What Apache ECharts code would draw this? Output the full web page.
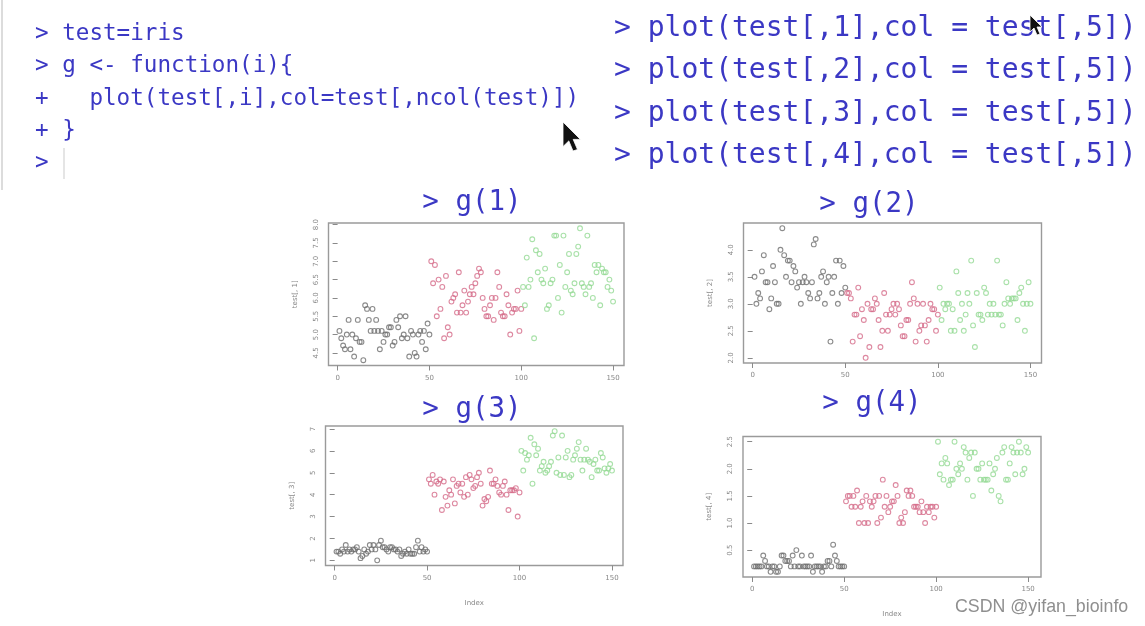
<!DOCTYPE html>
<html>
<head>
<meta charset="utf-8">
<script src="https://cdn.jsdelivr.net/npm/echarts@6/dist/echarts.min.js"></script>
<style>
html,body{margin:0;padding:0;background:#fff;}
#chart{width:1145px;height:626px;}
</style>
</head>
<body>
<div id="chart"></div>
<script>
// ---- data: iris (test = iris) ----
const sepalLength = [5.1,4.9,4.7,4.6,5.0,5.4,4.6,5.0,4.4,4.9,5.4,4.8,4.8,4.3,5.8,5.7,5.4,5.1,5.7,5.1,5.4,5.1,4.6,5.1,4.8,5.0,5.0,5.2,5.2,4.7,4.8,5.4,5.2,5.5,4.9,5.0,5.5,4.9,4.4,5.1,5.0,4.5,4.4,5.0,5.1,4.8,5.1,4.6,5.3,5.0,
7.0,6.4,6.9,5.5,6.5,5.7,6.3,4.9,6.6,5.2,5.0,5.9,6.0,6.1,5.6,6.7,5.6,5.8,6.2,5.6,5.9,6.1,6.3,6.1,6.4,6.6,6.8,6.7,6.0,5.7,5.5,5.5,5.8,6.0,5.4,6.0,6.7,6.3,5.6,5.5,5.5,6.1,5.8,5.0,5.6,5.7,5.7,6.2,5.1,5.7,
6.3,5.8,7.1,6.3,6.5,7.6,4.9,7.3,6.7,7.2,6.5,6.4,6.8,5.7,5.8,6.4,6.5,7.7,7.7,6.0,6.9,5.6,7.7,6.3,6.7,7.2,6.2,6.1,6.4,7.2,7.4,7.9,6.4,6.3,6.1,7.7,6.3,6.4,6.0,6.9,6.7,6.9,5.8,6.8,6.7,6.7,6.3,6.5,6.2,5.9];
const sepalWidth = [3.5,3.0,3.2,3.1,3.6,3.9,3.4,3.4,2.9,3.1,3.7,3.4,3.0,3.0,4.0,4.4,3.9,3.5,3.8,3.8,3.4,3.7,3.6,3.3,3.4,3.0,3.4,3.5,3.4,3.2,3.1,3.4,4.1,4.2,3.1,3.2,3.5,3.6,3.0,3.4,3.5,2.3,3.2,3.5,3.8,3.0,3.8,3.2,3.7,3.3,
3.2,3.2,3.1,2.3,2.8,2.8,3.3,2.4,2.9,2.7,2.0,3.0,2.2,2.9,2.9,3.1,3.0,2.7,2.2,2.5,3.2,2.8,2.5,2.8,2.9,3.0,2.8,3.0,2.9,2.6,2.4,2.4,2.7,2.7,3.0,3.4,3.1,2.3,3.0,2.5,2.6,3.0,2.6,2.3,2.7,3.0,2.9,2.9,2.5,2.8,
3.3,2.7,3.0,2.9,3.0,3.0,2.5,2.9,2.5,3.6,3.2,2.7,3.0,2.5,2.8,3.2,3.0,3.8,2.6,2.2,3.2,2.8,2.8,2.7,3.3,3.2,2.8,3.0,2.8,3.0,2.8,3.8,2.8,2.8,2.6,3.0,3.4,3.1,3.0,3.1,3.1,3.1,2.7,3.2,3.3,3.0,2.5,3.0,3.4,3.0];
const petalLength = [1.4,1.4,1.3,1.5,1.4,1.7,1.4,1.5,1.4,1.5,1.5,1.6,1.4,1.1,1.2,1.5,1.3,1.4,1.7,1.5,1.7,1.5,1.0,1.7,1.9,1.6,1.6,1.5,1.4,1.6,1.6,1.5,1.5,1.4,1.5,1.2,1.3,1.4,1.3,1.5,1.3,1.3,1.3,1.6,1.9,1.4,1.6,1.4,1.5,1.4,
4.7,4.5,4.9,4.0,4.6,4.5,4.7,3.3,4.6,3.9,3.5,4.2,4.0,4.7,3.6,4.4,4.5,4.1,4.5,3.9,4.8,4.0,4.9,4.7,4.3,4.4,4.8,5.0,4.5,3.5,3.8,3.7,3.9,5.1,4.5,4.5,4.7,4.4,4.1,4.0,4.4,4.6,4.0,3.3,4.2,4.2,4.2,4.3,3.0,4.1,
6.0,5.1,5.9,5.6,5.8,6.6,4.5,6.3,5.8,6.1,5.1,5.3,5.5,5.0,5.1,5.3,5.5,6.7,6.9,5.0,5.7,4.9,6.7,4.9,5.7,6.0,4.8,4.9,5.6,5.8,6.1,6.4,5.6,5.1,5.6,6.1,5.6,5.5,4.8,5.4,5.6,5.1,5.1,5.9,5.7,5.2,5.0,5.2,5.4,5.1];
const petalWidth = [0.2,0.2,0.2,0.2,0.2,0.4,0.3,0.2,0.2,0.1,0.2,0.2,0.1,0.1,0.2,0.4,0.4,0.3,0.3,0.3,0.2,0.4,0.2,0.5,0.2,0.2,0.4,0.2,0.2,0.2,0.2,0.4,0.1,0.2,0.2,0.2,0.2,0.1,0.2,0.2,0.3,0.3,0.2,0.6,0.4,0.3,0.2,0.2,0.2,0.2,
1.4,1.5,1.5,1.3,1.5,1.3,1.6,1.0,1.3,1.4,1.0,1.5,1.0,1.4,1.3,1.4,1.5,1.0,1.5,1.1,1.8,1.3,1.5,1.2,1.3,1.4,1.4,1.7,1.5,1.0,1.1,1.0,1.2,1.6,1.5,1.6,1.5,1.3,1.3,1.3,1.2,1.4,1.2,1.0,1.3,1.2,1.3,1.3,1.1,1.3,
2.5,1.9,2.1,1.8,2.2,2.1,1.7,1.8,1.8,2.5,2.0,1.9,2.1,2.0,2.4,2.3,1.8,2.2,2.3,1.5,2.3,2.0,2.0,1.8,2.1,1.8,1.8,1.8,2.1,1.6,1.9,2.0,2.2,1.5,1.4,2.3,2.4,1.8,1.8,2.1,2.4,2.3,1.9,2.3,2.5,2.3,1.9,2.0,2.4,2.3,1.8];
// Species column (test[,5]): 0 = setosa, 1 = versicolor, 2 = virginica
const speciesNames = ['setosa','versicolor','virginica'];
const speciesCode = ('00000000000000000000000000000000000000000000000000' +
                     '11111111111111111111111111111111111111111111111111' +
                     '22222222222222222222222222222222222222222222222222').split('').map(Number);
// y tick labels per panel
const yTicks1 = [4.5,5.0,5.5,6.0,6.5,7.0,7.5,8.0];
const yTicks2 = [2.0,2.5,3.0,3.5,4.0];
const yTicks3 = [1,2,3,4,5,6,7];
const yTicks4 = [0.5,1.0,1.5,2.0,2.5];
const xTicks = [0,50,100,150];
const yTitles = ['test[, 1]','test[, 2]','test[, 3]','test[, 4]'];
const panelTitles = ['> g(1)','> g(2)','> g(3)','> g(4)'];
const codeLeft = ['> test=iris','> g <- function(i){','+   plot(test[,i],col=test[,ncol(test)])','+ }','>'];
const codeRight = ['> plot(test[,1],col = test[,5])','> plot(test[,2],col = test[,5])','> plot(test[,3],col = test[,5])','> plot(test[,4],col = test[,5])'];
const watermark = 'CSDN @yifan_bioinfo';

// ---- layout / style ----
const palette = ['#6e6e6e','#d46a88','#93da93'];
const BLUE = '#3b38c4';
const panels = [
  {vals: sepalLength, ticks: yTicks1, dec: 1, box: {l: 328.5, r: 624, t: 223, b: 365.5}, xname: ''},
  {vals: sepalWidth,  ticks: yTicks2, dec: 1, box: {l: 743.5, r: 1041.5, t: 223, b: 363}, xname: ''},
  {vals: petalLength, ticks: yTicks3, dec: 0, box: {l: 325.5, r: 623, t: 426, b: 565.5}, xname: 'Index'},
  {vals: petalWidth,  ticks: yTicks4, dec: 1, box: {l: 743, r: 1041, t: 436.5, b: 577}, xname: 'Index'}
];
const W = 1145, H = 626;

function rRange(lo, hi) { const d = (hi - lo) * 0.04; return [lo - d, hi + d]; }

const grids = [], xAxes = [], yAxes = [], series = [];
const axisGray = '#8a8a8a';
panels.forEach((p, k) => {
  const b = p.box;
  grids.push({left: b.l, top: b.t, width: b.r - b.l, height: b.b - b.t, show: true,
              borderColor: '#9a9a9a', borderWidth: 1.4, backgroundColor: 'transparent', containLabel: false});
  const xr = rRange(1, p.vals.length);
  const yr = rRange(Math.min(...p.vals), Math.max(...p.vals));
  xAxes.push({gridIndex: k, type: 'value', min: xr[0], max: xr[1],
    axisLine: {show: false}, splitLine: {show: false},
    axisTick: {show: true, length: 5, lineStyle: {color: axisGray, width: 1}, customValues: xTicks},
    axisLabel: {show: true, margin: 9, fontSize: 7, color: '#888', fontFamily: 'DejaVu Sans', customValues: xTicks},
    name: p.xname, nameLocation: 'middle', nameGap: 34,
    nameTextStyle: {fontSize: 7, color: '#888', fontFamily: 'DejaVu Sans'}});
  yAxes.push({gridIndex: k, type: 'value', min: yr[0], max: yr[1],
    axisLine: {show: false}, splitLine: {show: false},
    axisTick: {show: true, length: 5, lineStyle: {color: axisGray, width: 1}, customValues: p.ticks},
    axisLabel: {show: true, margin: 9, rotate: 90, fontSize: 7, color: '#888', fontFamily: 'DejaVu Sans',
      customValues: p.ticks, formatter: v => Number(v).toFixed(p.dec)},
    name: yTitles[k], nameLocation: 'middle', nameGap: 30, nameRotate: 90,
    nameTextStyle: {fontSize: 7, color: '#888', fontFamily: 'DejaVu Sans'}});
  speciesNames.forEach((s, si) => {
    const data = [];
    p.vals.forEach((v, i) => { if (speciesCode[i] === si) data.push([i + 1, v]); });
    series.push({type: 'scatter', name: s, xAxisIndex: k, yAxisIndex: k, data,
      symbol: 'circle', symbolSize: 4.8, silent: true, animation: false,
      itemStyle: {color: 'rgba(255,255,255,0)', borderColor: palette[si], borderWidth: 1.1}});
  });
});

// ---- text / decoration ----
const graphic = [];
graphic.push({type: 'line', shape: {x1: 2, y1: 0, x2: 2, y2: 190}, style: {stroke: '#d0d0d0', lineWidth: 1.5}, silent: true});
const leftY = [34, 66.5, 99, 131.5, 163];
codeLeft.forEach((t, i) => graphic.push({type: 'text', x: 35, y: leftY[i],
  style: {text: t, fill: BLUE, font: '22.6px "DejaVu Sans Mono"', verticalAlign: 'middle', align: 'left'}, silent: true}));
graphic.push({type: 'line', shape: {x1: 64, y1: 148, x2: 64, y2: 179}, style: {stroke: '#d4d4d4', lineWidth: 1.2}, silent: true});
const rightY = [28.5, 71, 113.5, 156];
codeRight.forEach((t, i) => graphic.push({type: 'text', x: 614, y: rightY[i],
  style: {text: t, fill: BLUE, font: '28px "DejaVu Sans Mono"', verticalAlign: 'middle', align: 'left'}, silent: true}));
const titlePos = [[472, 203], [869, 205], [472, 410], [872, 403.5]];
panelTitles.forEach((t, i) => graphic.push({type: 'text', x: titlePos[i][0], y: titlePos[i][1],
  style: {text: t, fill: BLUE, font: '27.5px "DejaVu Sans Mono"', align: 'center', verticalAlign: 'middle'}, silent: true}));
graphic.push({type: 'text', x: 955, y: 607, style: {text: watermark, fill: '#8f8f8f', font: '17.8px "Liberation Sans"', align: 'left', verticalAlign: 'middle'}, silent: true});
// mouse pointers in the screenshot
graphic.push({type: 'polygon', shape: {points: [[563,122],[563,146.6],[568.8,140.9],[573,151],[577.5,149.5],[573.2,139.4],[580.4,139.4]]},
  style: {fill: '#111', stroke: '#fff', lineWidth: 0.8}, silent: true, z: 100});
graphic.push({type: 'polygon', shape: {points: [[1030,15],[1030,32],[1034,28],[1037,35],[1040,34],[1037,27],[1042,27]]},
  style: {fill: '#111', stroke: '#fff', lineWidth: 0.8}, silent: true, z: 100});

const chart = echarts.init(document.getElementById('chart'), null, {renderer: 'canvas', width: W, height: H});
chart.setOption({
  backgroundColor: '#fff',
  animation: false,
  grid: grids, xAxis: xAxes, yAxis: yAxes, series, graphic
});
</script>
</body>
</html>
